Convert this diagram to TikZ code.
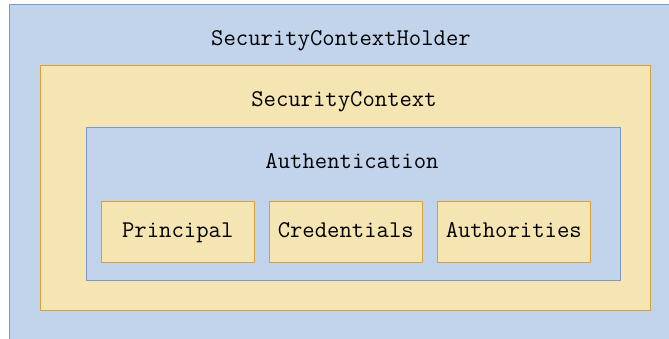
\documentclass[tikz,border=0pt]{standalone}
\definecolor{boxblue}{RGB}{194,212,235}
\definecolor{lineblue}{RGB}{122,152,204}
\definecolor{boxyellow}{RGB}{245,229,179}
\definecolor{lineorange}{RGB}{214,161,58}
\begin{document}
\begin{tikzpicture}[
        x=1pt, y=-1pt,
        font=\ttfamily\fontsize{24}{28}\selectfont,
        frame/.style={draw, line width=1.5pt, inner sep=0pt, anchor=north west},
        bluebox/.style={frame, fill=boxblue, draw=lineblue},
        yellowbox/.style={frame, fill=boxyellow, draw=lineorange},
        part/.style={yellowbox, minimum width=153pt, minimum height=61pt},
        txt/.style={text height=14pt, text depth=3pt, inner sep=0pt}
    ]
        \useasboundingbox (0,0) rectangle (669,338);
        \node[bluebox, minimum width=670pt, minimum height=345pt] (holder) at (8.5,3.5) {};
        \node[yellowbox, minimum width=610pt, minimum height=245pt] (context) at (39.5,64.5) {};
        \node[bluebox, minimum width=534pt, minimum height=153pt] (auth) at (85.5,126.5) {};
        \node[part] (principal) at (100.5,200.5) {};
        \node[part] (credentials) at (268.5,200.5) {};
        \node[part] (authorities) at (436.5,200.5) {};
        \node[txt] (holdertxt) at (341,40) {SecurityContextHolder};
        \node[txt] (contexttxt) at (344,101) {SecurityContext};
        \node[txt] (authtxt) at (352,163) {Authentication};
        \node[txt] at (principal.center) {Principal};
        \node[txt] at (credentials.center) {Credentials};
        \node[txt] at (authorities.center) {Authorities};
    \end{tikzpicture}
\end{document}
